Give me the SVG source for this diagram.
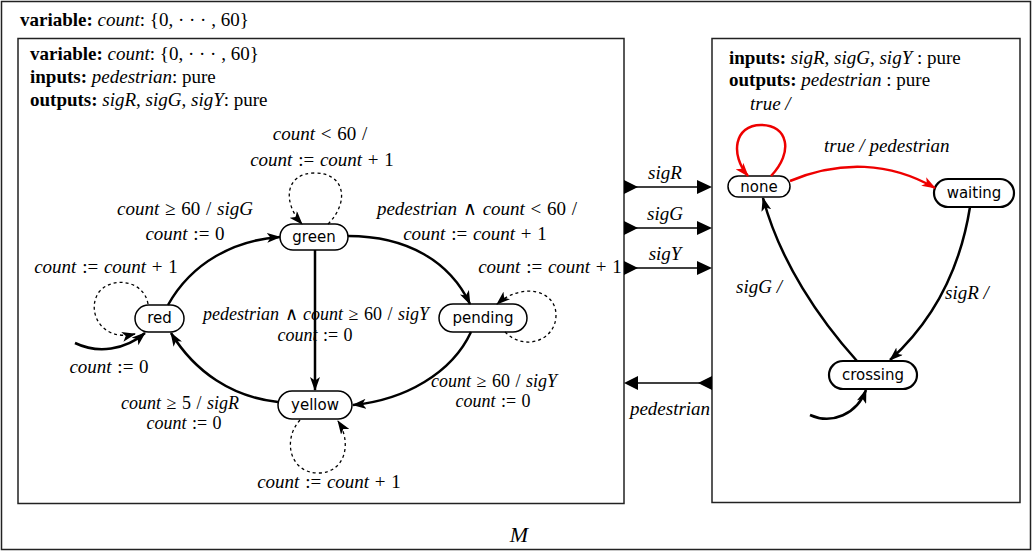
<svg xmlns="http://www.w3.org/2000/svg" width="1035" height="552" viewBox="0 0 1035 552">
<defs>
<style>
text{font-family:"Liberation Serif","Times New Roman",serif;font-size:19px;fill:#000}
.i{font-style:italic}
.b{font-weight:bold}
.m{text-anchor:middle;word-spacing:1px}
.nl{font-family:"DejaVu Sans","Liberation Sans",sans-serif;font-size:15px;text-anchor:middle;word-spacing:0}
.box{fill:none;stroke:#222;stroke-width:1.5}
.node{fill:#fff;stroke:#000;stroke-width:1.5}
.nodeb{fill:#fff;stroke:#000;stroke-width:2.2}
.e{fill:none;stroke:#000;stroke-width:2.5;marker-end:url(#ah)}
.d{fill:none;stroke:#000;stroke-width:1.3;stroke-dasharray:3 3;marker-end:url(#ah)}
.r{fill:none;stroke:#e00;stroke-width:2.5;marker-end:url(#ahr)}
.p{fill:none;stroke:#000;stroke-width:1.5}
.sm{font-size:18px}
</style>
<marker id="ah" viewBox="0 0 14 10" refX="13" refY="5" markerWidth="14" markerHeight="10" markerUnits="userSpaceOnUse" orient="auto"><path d="M0,0 L14,5 L0,10 L3.5,5 z" fill="#000"/></marker>
<marker id="ahr" viewBox="0 0 14 10" refX="13" refY="5" markerWidth="14" markerHeight="10" markerUnits="userSpaceOnUse" orient="auto"><path d="M0,0 L14,5 L0,10 L3.5,5 z" fill="#e00"/></marker>
</defs>
<rect x="0" y="0" width="1035" height="552" fill="#fff"/>

<g id="outer">
<rect class="box" x="1.5" y="1.5" width="1029" height="548"/>
<text x="20" y="26"><tspan class="b">variable:</tspan> <tspan class="i">count</tspan>: {0, · · · , 60}</text>
<text class="i" x="519" y="542" style="font-size:22px;text-anchor:middle">M</text>
</g>

<g id="trafficlight">
<rect class="box" x="18" y="38.5" width="606" height="465"/>
<text x="30" y="60"><tspan class="b">variable:</tspan> <tspan class="i">count</tspan>: {0, · · · , 60}</text>
<text x="30" y="83"><tspan class="b">inputs:</tspan> <tspan class="i">pedestrian</tspan>: pure</text>
<text x="30" y="106"><tspan class="b">outputs:</tspan> <tspan class="i">sigR</tspan>, <tspan class="i">sigG</tspan>, <tspan class="i">sigY</tspan>: pure</text>
</g>

<g id="pedestrianbox">
<rect class="box" x="712" y="38.5" width="308" height="464"/>
<text x="729" y="64"><tspan class="b">inputs:</tspan> <tspan class="i">sigR</tspan>, <tspan class="i">sigG</tspan>, <tspan class="i">sigY</tspan> : pure</text>
<text x="729" y="86"><tspan class="b">outputs:</tspan> <tspan class="i">pedestrian</tspan> : pure</text>
</g>

<g id="green"><rect class="node" x="280" y="224" width="68" height="26" rx="13"/><text class="nl" x="314" y="242">green</text></g>
<g id="red"><rect class="node" x="135" y="305" width="49" height="27" rx="13.5"/><text class="nl" x="159.5" y="323">red</text></g>
<g id="yellow"><rect class="node" x="278" y="391" width="74" height="28" rx="14"/><text class="nl" x="315" y="410">yellow</text></g>
<g id="pending"><rect class="node" x="439" y="304" width="88" height="28" rx="14"/><text class="nl" x="483" y="323">pending</text></g>
<g id="none"><rect class="node" x="728" y="176" width="62" height="21" rx="10.5"/><text class="nl" x="759" y="192">none</text></g>
<g id="waiting"><rect class="nodeb" x="934" y="179" width="80" height="28" rx="14"/><text class="nl" x="974" y="198">waiting</text></g>
<g id="crossing"><rect class="nodeb" x="829" y="361" width="88" height="28" rx="14"/><text class="nl" x="873" y="380">crossing</text></g>

<g id="connectors">
<path class="e" d="M168,305 C192,262 235,240 280,237"/>
<path class="e" d="M348,236 C408,236 450,262 470,304"/>
<path class="e" d="M315,250 L315,390"/>
<path class="e" d="M471,332 C452,373 405,400 353,405"/>
<path class="e" d="M278,402 C232,397 195,372 171,333"/>
<path class="e" d="M75,343 C98,354 125,350 145,333"/>
<path class="d" d="M148,304 C144,280 112,276 99,292 C86,310 100,342 135,334"/>
<path class="d" d="M328,224 C350,202 345,173 315,173 C285,173 282,202 302,224"/>
<path class="d" d="M505,332 C525,352 556,340 556,315 C556,290 522,282 497,304"/>
<path class="d" d="M300,420 C282,440 290,473 318,473 C346,473 352,442 338,421"/>
<path class="r" d="M771,176 C794,152 788,125 761,125 C734,125 730,155 748,176"/>
<path class="r" d="M790,181 C840,160 890,162 935,188"/>
<path class="e" d="M970,207 C960,270 932,322 890,360"/>
<path class="e" d="M857,361 C820,320 780,262 763,198"/>
<path class="e" d="M810,415 C832,425 857,414 866,390"/>
<line class="p" x1="624" y1="187" x2="700" y2="187"/>
<line class="p" x1="624" y1="228" x2="700" y2="228"/>
<line class="p" x1="624" y1="268" x2="700" y2="268"/>
<line class="p" x1="636" y1="383" x2="712" y2="383"/>
<polygon points="624,180 638,187 624,194"/>
<polygon points="697,180 712,187 697,194"/>
<polygon points="624,221 638,228 624,235"/>
<polygon points="697,221 712,228 697,235"/>
<polygon points="624,261 638,268 624,275"/>
<polygon points="697,261 712,268 697,275"/>
<polygon points="712,376 698,383 712,390"/>
<polygon points="638,376 624,383 638,390"/>
</g>

<g id="labels">
<text class="m" x="320" y="140"><tspan class="i">count</tspan> &lt; 60 /</text>
<text class="m" x="322" y="166"><tspan class="i">count</tspan> := <tspan class="i">count</tspan> + 1</text>
<text class="m" x="185" y="215"><tspan class="i">count</tspan> ≥ 60 / <tspan class="i">sigG</tspan></text>
<text class="m" x="185" y="240"><tspan class="i">count</tspan> := 0</text>
<text class="m" x="106" y="273"><tspan class="i">count</tspan> := <tspan class="i">count</tspan> + 1</text>
<text class="m" x="477" y="215"><tspan class="i">pedestrian</tspan> ∧ <tspan class="i">count</tspan> &lt; 60 /</text>
<text class="m" x="475" y="240"><tspan class="i">count</tspan> := <tspan class="i">count</tspan> + 1</text>
<text class="m" x="550" y="273"><tspan class="i">count</tspan> := <tspan class="i">count</tspan> + 1</text>
<text class="m sm" x="316" y="320"><tspan class="i">pedestrian</tspan> ∧ <tspan class="i">count</tspan> ≥ 60 / <tspan class="i">sigY</tspan></text>
<text class="m sm" x="315" y="341"><tspan class="i">count</tspan> := 0</text>
<text class="m" x="109" y="373"><tspan class="i">count</tspan> := 0</text>
<text class="m sm" x="180" y="409"><tspan class="i">count</tspan> ≥ 5 / <tspan class="i">sigR</tspan></text>
<text class="m sm" x="184" y="429"><tspan class="i">count</tspan> := 0</text>
<text class="m sm" x="494" y="387"><tspan class="i">count</tspan> ≥ 60 / <tspan class="i">sigY</tspan></text>
<text class="m sm" x="493" y="407"><tspan class="i">count</tspan> := 0</text>
<text class="m" x="329" y="488"><tspan class="i">count</tspan> := <tspan class="i">count</tspan> + 1</text>
<text class="i m" x="665" y="179">sigR</text>
<text class="i m" x="665" y="220">sigG</text>
<text class="i m" x="665" y="260">sigY</text>
<text class="i m" x="670" y="415">pedestrian</text>
<text class="i" x="750" y="110">true /</text>
<text class="i" x="824" y="152">true / pedestrian</text>
<text class="i" x="736" y="293">sigG /</text>
<text class="i" x="945" y="299">sigR /</text>
</g>
</svg>
